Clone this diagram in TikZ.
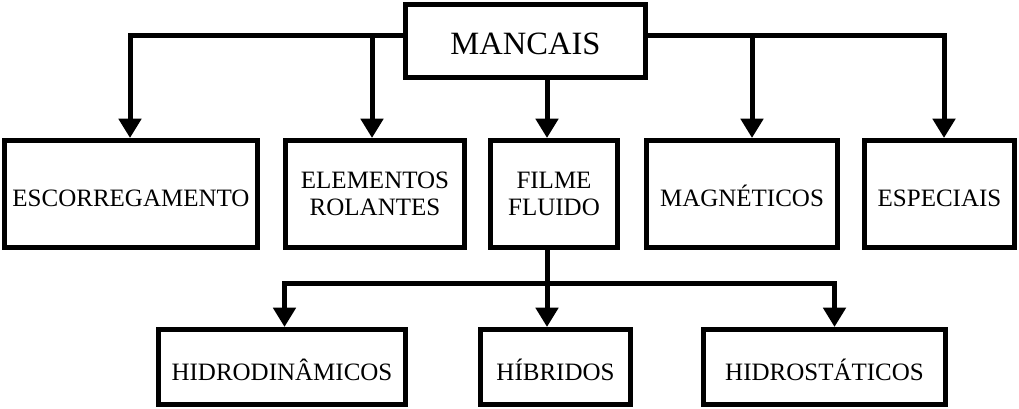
\documentclass[tikz,border=0pt]{standalone}
\usepackage{fontspec}
\setmainfont{Liberation Serif}
\usetikzlibrary{arrows.meta}
\tikzset{
  box/.style={draw, line width=3.75pt, inner sep=0pt, align=center,
    font=\fontsize{18.75}{20.25}\selectfont},
  onebox/.style={box, text height=19.5pt, text depth=0pt},
  arr/.style={line width=3.75pt, -{Triangle[width=16.5pt,length=14.5pt]}},
  ln/.style={line width=3.75pt}
}
\begin{document}
\begin{tikzpicture}[x=0.75pt,y=-0.75pt]
\useasboundingbox (0,0) rectangle (1019,409);
% top
\node[box, font=\fontsize{24.4}{26}\selectfont, text height=20pt, text depth=0pt,
  minimum width=240*0.75pt, minimum height=73*0.75pt] (m) at (525.5,41) {MANCAIS};
% row 2
\node[onebox, minimum width=253*0.75pt, minimum height=107*0.75pt] (esc) at (131,194) {ESCORREGAMENTO};
\node[box, minimum width=179*0.75pt, minimum height=107*0.75pt] (ele) at (375,194) {ELEMENTOS\\ROLANTES};
\node[box, minimum width=127*0.75pt, minimum height=107*0.75pt] (fil) at (554,194) {FILME\\FLUIDO};
\node[onebox, minimum width=191*0.75pt, minimum height=107*0.75pt] (mag) at (742,194) {MAGNÉTICOS};
\node[onebox, minimum width=150*0.75pt, minimum height=107*0.75pt] (esp) at (939.5,194) {ESPECIAIS};
% row 3
\node[onebox, minimum width=247*0.75pt, minimum height=75*0.75pt] (hdin) at (282,367) {HIDRODINÂMICOS};
\node[onebox, minimum width=150*0.75pt, minimum height=75*0.75pt] (hib) at (555.5,367) {HÍBRIDOS};
\node[onebox, minimum width=242*0.75pt, minimum height=75*0.75pt] (hest) at (824.5,367) {HIDROSTÁTICOS};
% junction coordinates
\coordinate (jesc) at (130,35.5);
\coordinate (jele) at (372,35.5);
\coordinate (jmag) at (752,35.5);
\coordinate (jesp) at (944,35.5);
\coordinate (jfil) at (547,0);
\coordinate (jhd) at (284.5,283.5);
\coordinate (jhe) at (834.5,283.5);
% connectors from MANCAIS
\draw[arr] (m.west |- jesc) -| (esc.north -| jesc);
\draw[arr] (jele) -- (ele.north -| jele);
\draw[arr] (m.south -| jfil) -- (fil.north -| jfil);
\draw[arr] (m.east |- jesp) -| (esp.north -| jesp);
\draw[arr] (jmag) -- (mag.north -| jmag);
% connectors from FILME FLUIDO
\draw[arr] (fil.south -| jfil) -- (hib.north -| jfil);
\draw[arr] (jhd -| jfil) -| (hdin.north -| jhd);
\draw[arr] (jhd -| jfil) -| (hest.north -| jhe);
\end{tikzpicture}
\end{document}
